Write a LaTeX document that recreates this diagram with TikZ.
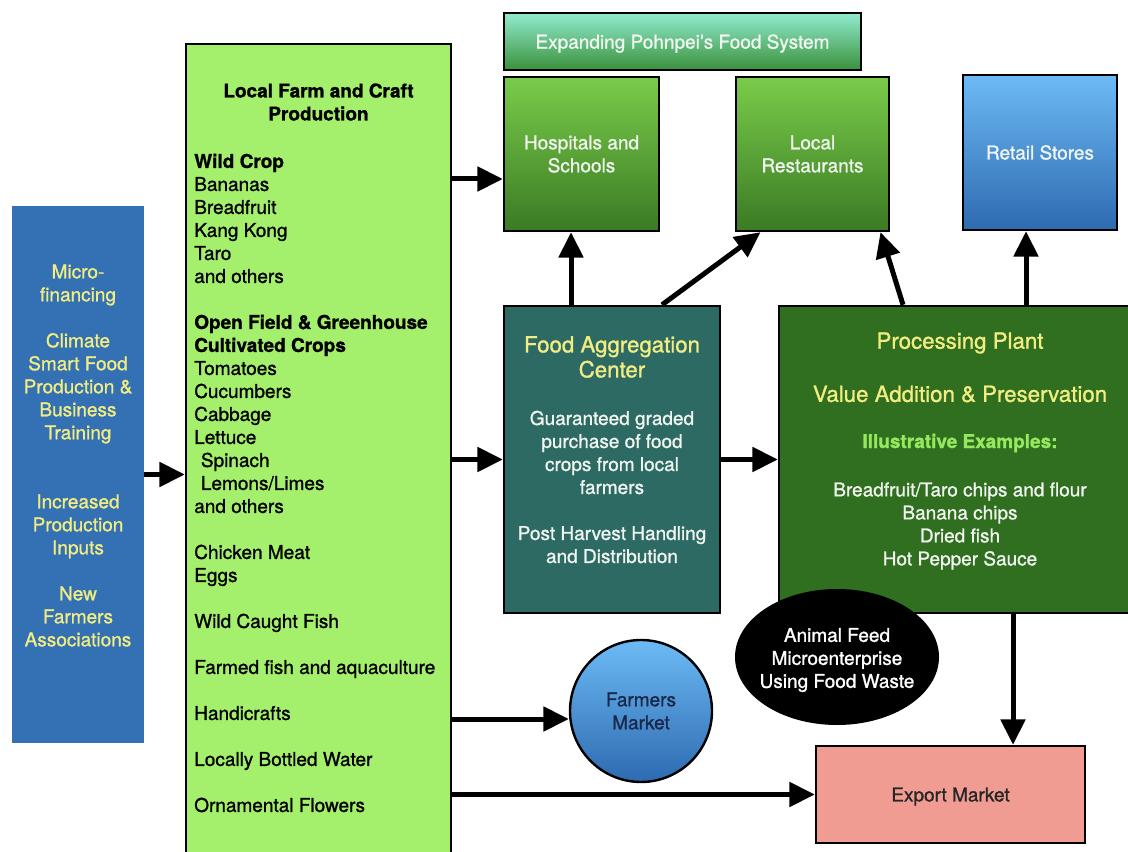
\documentclass[tikz,border=0pt]{standalone}
\usepackage{fontspec}
\setmainfont{TeX Gyre Heros}[FakeBold=1.1]
\usetikzlibrary{arrows.meta,shapes.geometric,calc}

\definecolor{finblue}{RGB}{52,112,180}
\definecolor{headyellow}{RGB}{242,237,130}
\definecolor{farmgreen}{RGB}{164,240,108}
\definecolor{titletop}{RGB}{145,235,205}
\definecolor{titlebot}{RGB}{58,145,60}
\definecolor{boxtop}{RGB}{122,204,74}
\definecolor{boxbot}{RGB}{58,122,36}
\definecolor{retailtop}{RGB}{108,186,245}
\definecolor{retailbot}{RGB}{46,106,176}
\definecolor{aggteal}{RGB}{46,106,100}
\definecolor{procgreen}{RGB}{48,110,32}
\definecolor{illgreen}{RGB}{150,232,95}
\definecolor{marketnavy}{RGB}{25,40,72}
\definecolor{exportpink}{RGB}{240,156,146}
\definecolor{softwhite}{RGB}{240,245,240}

\newcommand{\bodyfont}{\fontsize{14.25}{17.25}\selectfont}
\newcommand{\headfont}{\fontsize{16.7}{18.75}\selectfont}

\begin{document}
\begin{tikzpicture}[x=0.75pt,y=-0.75pt,
    box/.style={draw=black,line width=1.8pt,inner sep=0pt,align=center,font=\bodyfont},
    txt/.style={inner sep=0pt,font=\bodyfont},
    flow/.style={line width=3.75pt,-{Triangle[length=19pt,width=18pt]}}]
  \useasboundingbox (0,0) rectangle (1128,852);

  \node[fill=finblue,minimum width=99pt,minimum height=402.75pt] (fin) at (78,474.5) {};
  \node[txt,align=center,text=headyellow] (fintext) at (78,455.5)
      {Micro-\\financing\\[17.25pt]Climate\\Smart Food\\Production \&\\Business\\Training\\[34.5pt]
       Increased\\Production\\Inputs\\[17.25pt]New\\Farmers\\Associations};

  \node[box,fill=farmgreen,minimum width=198.75pt,minimum height=612pt] (farm) at (318.5,452) {};
  \node[txt,align=center,font=\bodyfont\bfseries] (farmtitle) at (318.5,102)
      {Local Farm and Craft\\Production};
  \node[txt,align=left,anchor=west] (farmlist) at (194,483)
      {\textbf{Wild Crop}\\Bananas\\Breadfruit\\Kang Kong\\Taro\\and others\\[17.25pt]
       \textbf{Open Field \& Greenhouse}\\\textbf{Cultivated Crops}\\Tomatoes\\Cucumbers\\Cabbage\\Lettuce\\
       \hspace*{5pt}Spinach\\\hspace*{5pt}Lemons/Limes\\and others\\[17.25pt]
       Chicken Meat\\Eggs\\[17.25pt]Wild Caught Fish\\[17.25pt]Farmed fish and aquaculture\\[17.25pt]
       Handicrafts\\[17.25pt]Locally Bottled Water\\[17.25pt]Ornamental Flowers};

  \node[box,top color=titletop,bottom color=titlebot,text=softwhite,text depth=0pt,
        minimum width=267.75pt,minimum height=42.75pt] (expand) at (682.5,41.5)
      {Expanding Pohnpei’s Food System};
  \node[box,top color=boxtop,bottom color=boxbot,text=softwhite,
        minimum width=116.25pt,minimum height=115.5pt] (hosp) at (581.5,154) {Hospitals and\\Schools};
  \node[box,top color=boxtop,bottom color=boxbot,text=softwhite,
        minimum width=114.75pt,minimum height=115.5pt] (rest) at (812.5,154) {Local\\Restaurants};
  \node[box,top color=retailtop,bottom color=retailbot,text=softwhite,
        minimum width=115.5pt,minimum height=116.25pt] (retail) at (1040,152.5) {Retail Stores};

  \node[box,fill=aggteal,minimum width=162pt,minimum height=230.25pt] (agg) at (612,459.5) {};
  \node[txt,align=center,font=\headfont,text=headyellow] (agghead) at (612,357)
      {Food Aggregation\\Center};
  \node[txt,align=center,text=softwhite] (aggbody) at (612,487)
      {Guaranteed graded\\purchase of food\\crops from local\\farmers\\[17.25pt]Post Harvest Handling\\and Distribution};

  \node[box,fill=procgreen,minimum width=264pt,minimum height=230.25pt] (proc) at (955,459.5) {};
  \node[txt,font=\headfont,text=headyellow] (prochead) at (960,343) {Processing Plant};
  \node[txt,font=\headfont,text=headyellow] (procvalue) at (960,394) {Value Addition \& Preservation};
  \node[txt,font=\bodyfont\bfseries,text=illgreen] (procill) at (960,443) {Illustrative Examples:};
  \node[txt,align=center,text=softwhite] (proclist) at (960,526)
      {Breadfruit/Taro chips and flour\\Banana chips\\Dried fish\\Hot Pepper Sauce};

  \node[ellipse,fill=black,inner sep=0pt,minimum width=153pt,minimum height=102pt] (feed) at (837,657) {};
  \node[txt,align=center,text=white] (feedtext) at (837,660) {Animal Feed\\Microenterprise\\Using Food Waste};

  \node[box,circle,top color=retailtop,bottom color=retailbot,text=marketnavy,
        minimum size=106.5pt] (market) at (641,711) {Farmers\\Market};
  \node[box,fill=exportpink,text=black!85,text depth=0pt,minimum width=201.75pt,minimum height=72.75pt] (export)
      at (950.5,794.5) {Export Market};

  \draw[flow] (fin.east) -- (farm.west |- fin.east);
  \draw[flow] (farm.east |- 0,179) -- (hosp.west |- 0,179);
  \draw[flow] (farm.east |- agg.west) -- (agg.west);
  \draw[flow] (agg.east) -- (proc.west);
  \draw[flow] (agg.north -| 571,0) -- (hosp.south -| 571,0);
  \draw[flow] ($(agg.north)+(50,0)$) -- ($(rest.south)+(-52,0)$);
  \draw[flow] ($(proc.north)+(-52,0)$) -- ($(rest.south)+(68,0)$);
  \draw[flow] (proc.north -| 1026,0) -- (retail.south -| 1026,0);
  \draw[flow] (proc.south -| 1013,0) -- (export.north -| 1013,0);
  \draw[flow] (farm.east |- 0,719) -- (market.west |- 0,719);
  \draw[flow] (farm.east |- export.west) -- (export.west);
\end{tikzpicture}
\end{document}
